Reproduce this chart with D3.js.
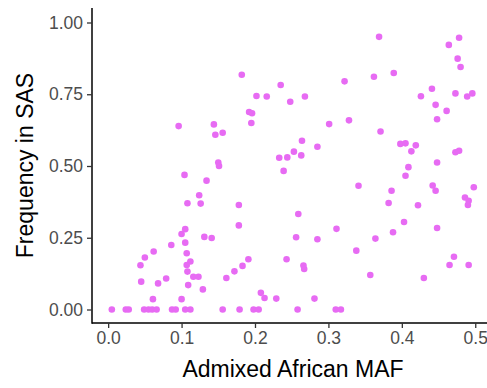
<!DOCTYPE html>
<html><head><meta charset="utf-8">
<script src="https://cdn.jsdelivr.net/npm/d3@7"></script>
<style>html,body{margin:0;padding:0;background:#fff;}svg{display:block;}</style>
</head><body>
<svg id="chart" width="487" height="388"></svg>
<script>
const mafX = [0.369,0.478,0.464,0.476,0.480,0.182,0.362,0.389,0.322,0.235,0.441,0.202,0.216,0.268,0.248,0.426,0.473,0.489,0.496,0.446,
0.461,0.192,0.196,0.448,0.328,0.096,0.144,0.195,0.301,0.146,0.156,0.371,0.264,0.285,0.398,0.405,0.419,0.413,0.473,0.478,
0.253,0.233,0.244,0.263,0.150,0.151,0.409,0.448,0.239,0.405,0.104,0.134,0.341,0.386,0.442,0.446,0.498,0.124,0.382,0.422,
0.486,0.491,0.490,0.108,0.126,0.178,0.259,0.178,0.311,0.403,0.388,0.448,0.105,0.100,0.131,0.141,0.256,0.285,0.364,0.086,
0.105,0.062,0.107,0.338,0.050,0.191,0.243,0.471,0.112,0.044,0.107,0.183,0.266,0.267,0.465,0.491,0.172,0.108,0.357,0.116,
0.123,0.161,0.079,0.430,0.045,0.068,0.109,0.129,0.208,0.213,0.229,0.281,0.061,0.100,
0.005,0.024,0.028,0.049,0.055,0.060,0.066,0.087,0.092,0.105,0.112,0.156,0.179,0.198,0.205,0.258,0.310,0.317];
const sasFreq = [0.950,0.947,0.922,0.874,0.845,0.818,0.811,0.824,0.795,0.782,0.769,0.744,0.742,0.742,0.724,0.743,0.753,0.742,0.753,0.713,
0.692,0.688,0.684,0.663,0.659,0.639,0.645,0.650,0.646,0.609,0.616,0.620,0.588,0.567,0.577,0.579,0.572,0.551,0.548,0.553,
0.550,0.529,0.530,0.537,0.512,0.500,0.496,0.512,0.483,0.466,0.469,0.449,0.431,0.414,0.432,0.414,0.426,0.398,0.371,0.363,
0.390,0.379,0.364,0.370,0.369,0.364,0.333,0.293,0.281,0.305,0.269,0.284,0.280,0.263,0.253,0.249,0.252,0.245,0.247,0.225,
0.233,0.202,0.196,0.205,0.181,0.175,0.175,0.184,0.167,0.154,0.155,0.152,0.153,0.141,0.155,0.155,0.133,0.132,0.120,0.114,
0.114,0.110,0.108,0.110,0.097,0.091,0.085,0.070,0.058,0.040,0.038,0.038,0.036,0.036,
0,0,0,0,0,0,0,0,0,0,0,0,0,0,0,0,0,0];
const xTicks = [0, 0.1, 0.2, 0.3, 0.4, 0.5];
const xTickLabels = ["0.0","0.1","0.2","0.3","0.4","0.5"];
const yTicks = [0, 0.25, 0.5, 0.75, 1];
const yTickLabels = ["0.00","0.25","0.50","0.75","1.00"];
const xTitle = "Admixed African MAF";
const yTitle = "Frequency in SAS";

const svg = d3.select("#chart");
const x = d3.scaleLinear().domain([-0.022, 0.516]).range([92, 487]);
const y = d3.scaleLinear().domain([-0.05, 1.05]).range([323.85, 8.15]);
const pointColor = "#E76BF3";

// points
svg.append("g").selectAll("circle").data(mafX.map((v,i)=>[v, sasFreq[i]])).join("circle")
  .attr("cx", d => x(d[0])).attr("cy", d => y(d[1])).attr("r", 3.3)
  .attr("fill", pointColor);

// axes
const xAxis = d3.axisBottom(x).tickValues(xTicks).tickFormat((d,i)=>xTickLabels[i]).tickSize(5).tickPadding(4).tickSizeOuter(0);
const yAxis = d3.axisLeft(y).tickValues(yTicks).tickFormat((d,i)=>yTickLabels[i]).tickSize(5).tickPadding(4).tickSizeOuter(0);

const gx = svg.append("g").attr("transform", "translate(0,323)").call(xAxis);
const gy = svg.append("g").attr("transform", "translate(92,0)").call(yAxis);
[gx, gy].forEach(g => {
  g.select(".domain").attr("stroke", "#000").attr("stroke-width", 1.5);
  g.selectAll(".tick line").attr("stroke", "#333").attr("stroke-width", 1.3);
  g.selectAll(".tick text").attr("fill", "#4D4D4D").style("font-family", "'Liberation Sans', Arial, sans-serif").style("font-size", "17.5px");
});
gx.select(".domain").attr("d", "M92,0H487");
gy.select(".domain").attr("d", "M0,8V323.75");

svg.append("text").attr("x", 293).attr("y", 377).attr("text-anchor", "middle")
  .style("font-family", "'Liberation Sans', Arial, sans-serif").style("font-size", "23px").attr("fill", "#000")
  .text(xTitle);
svg.append("text").attr("transform", "translate(33,165.5) rotate(-90)").attr("text-anchor", "middle")
  .style("font-family", "'Liberation Sans', Arial, sans-serif").style("font-size", "23px").attr("fill", "#000")
  .text(yTitle);
</script>
</body></html>
